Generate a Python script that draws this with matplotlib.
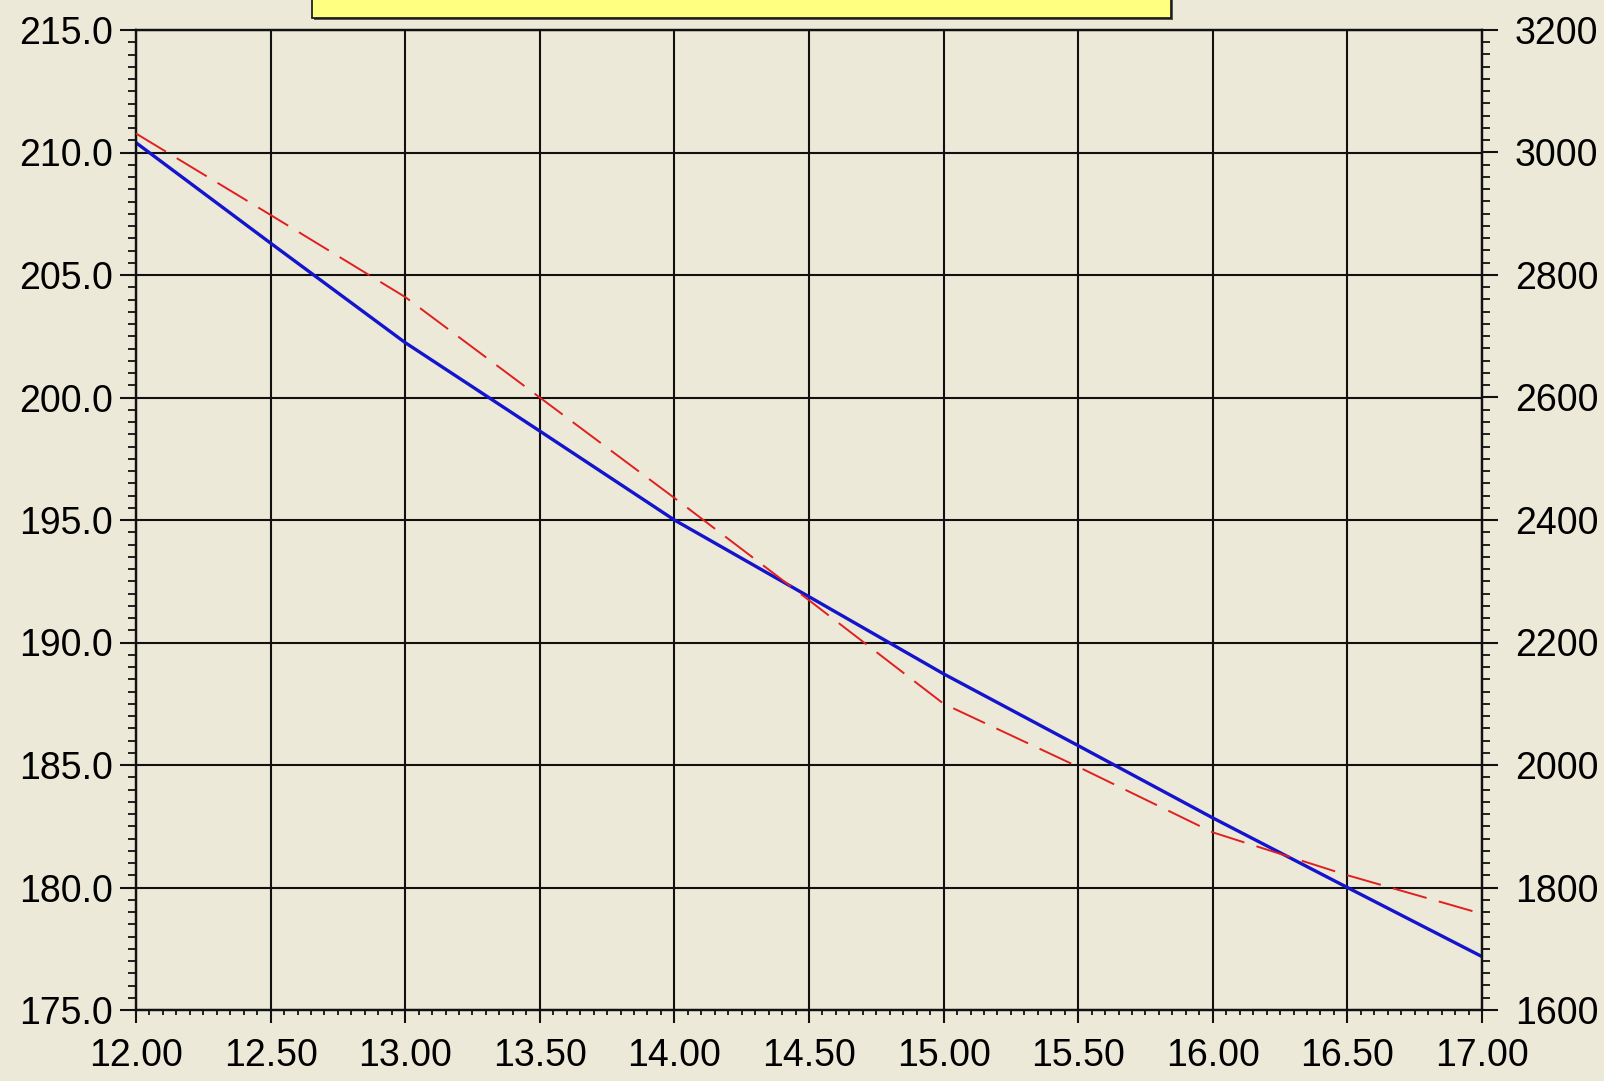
import matplotlib
matplotlib.use("Agg")
import matplotlib.pyplot as plt
from matplotlib.ticker import MultipleLocator, FormatStrFormatter
from matplotlib.patches import Rectangle

plt.rcParams['font.family'] = ['Liberation Sans', 'DejaVu Sans']

# Data
x_vals = [12.0, 12.5, 13.0, 13.5, 14.0, 14.5, 15.0, 15.5, 16.0, 16.5, 17.0]
blue_left = [210.4, 206.3, 202.24, 198.63, 195.0, 191.87, 188.72, 185.79, 182.84, 180.0, 177.18]
red_right = [3031, 2898, 2764, 2600, 2436, 2269, 2100, 1997, 1890, 1820, 1757]

bg = '#ECE9D8'
fig = plt.figure(figsize=(16.04, 10.81), dpi=100, facecolor=bg)
W, H = 1604, 1081
left, right, top, bottom = 136, 1482, 30, 1010
ax = fig.add_axes([left / W, 1 - bottom / H, (right - left) / W, (bottom - top) / H])
ax.set_facecolor(bg)

ax.set_xlim(12, 17)
ax.set_ylim(175, 215)
ax.xaxis.set_major_locator(MultipleLocator(0.5))
ax.xaxis.set_minor_locator(MultipleLocator(0.05))
ax.yaxis.set_major_locator(MultipleLocator(5))
ax.yaxis.set_minor_locator(MultipleLocator(0.5))
ax.xaxis.set_major_formatter(FormatStrFormatter('%.2f'))
ax.yaxis.set_major_formatter(FormatStrFormatter('%.1f'))
ax.grid(True, which='major', color='#111111', lw=1.5)
ax.set_axisbelow(True)

for s in ax.spines.values():
    s.set_color('#111111')
    s.set_linewidth(1.6)

ax.tick_params(axis='y', which='major', length=11.5, width=1.5, pad=5, labelsize=27, direction='out', colors='#111111', labelcolor='black')
ax.tick_params(axis='y', which='minor', length=5.5, width=1.3, direction='out', colors='#111111')
ax.tick_params(axis='x', which='major', length=9.5, width=1.5, pad=11, labelsize=27, direction='out', colors='#111111', labelcolor='black')
ax.tick_params(axis='x', which='minor', length=3.8, width=1.3, direction='out', colors='#111111')

ax.plot(x_vals, blue_left, color='#1414CC', lw=2.4, zorder=3)

ax2 = ax.twinx()
ax2.set_ylim(1600, 3200)
ax2.yaxis.set_major_locator(MultipleLocator(200))
ax2.yaxis.set_minor_locator(MultipleLocator(20))
ax2.yaxis.set_major_formatter(FormatStrFormatter('%d'))
ax2.tick_params(axis='y', which='major', length=11.5, width=1.5, pad=12, labelsize=27, direction='out', colors='#111111', labelcolor='black')
ax2.tick_params(axis='y', which='minor', length=6, width=1.3, direction='out', colors='#111111')
for s in ax2.spines.values():
    s.set_color('#111111')
    s.set_linewidth(1.6)
ax2.plot(x_vals, red_right, color='#E02020', lw=1.4, dashes=(18, 6.5), zorder=3)

# yellow title box at the top (text illegible in reference)
bx0, bx1, by1 = 312, 1171, 18
fig.patches.append(Rectangle(((bx0 + 2) / W, 1 - (by1 + 2) / H), (bx1 - bx0) / W, 40 / H,
                             transform=fig.transFigure, facecolor='#555555', edgecolor='none', zorder=1))
fig.patches.append(Rectangle((bx0 / W, 1 - by1 / H), (bx1 - bx0) / W, 40 / H,
                             transform=fig.transFigure, facecolor='#FFFF80', edgecolor='#111111', lw=1.2, zorder=2))

fig.savefig('out.png', dpi=100, facecolor=bg)
